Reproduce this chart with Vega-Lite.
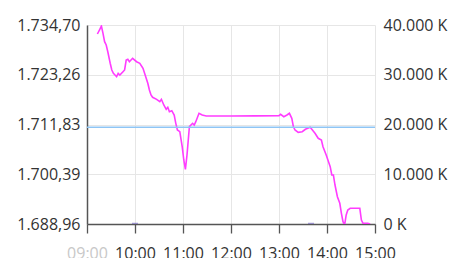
{
  "$schema": "https://vega.github.io/schema/vega-lite/v6.json",
  "width": 288,
  "height": 199,
  "autosize": "none",
  "padding": {"left": 87, "top": 25, "right": 74, "bottom": 34},
  "config": {
    "view": {"stroke": null},
    "axis": {"labelFont": "Open Sans", "labelFontSize": 16, "labelColor": "#333333", "gridColor": "#e6e6e6", "domainColor": "#555555", "tickColor": "#555555"}
  },
  "layer": [
    {
      "layer": [
        {
          "data": {"values": [
          {"t": "2024-01-02T09:13", "p": 1732.63},
          {"t": "2024-01-02T09:16", "p": 1733.71},
          {"t": "2024-01-02T09:18", "p": 1734.47},
          {"t": "2024-01-02T09:20", "p": 1732.79},
          {"t": "2024-01-02T09:22", "p": 1730.86},
          {"t": "2024-01-02T09:24", "p": 1730.10},
          {"t": "2024-01-02T09:26", "p": 1728.56},
          {"t": "2024-01-02T09:29", "p": 1725.90},
          {"t": "2024-01-02T09:31", "p": 1724.36},
          {"t": "2024-01-02T09:33", "p": 1723.60},
          {"t": "2024-01-02T09:35", "p": 1723.21},
          {"t": "2024-01-02T09:37", "p": 1722.82},
          {"t": "2024-01-02T09:39", "p": 1723.60},
          {"t": "2024-01-02T09:41", "p": 1723.21},
          {"t": "2024-01-02T09:45", "p": 1723.97},
          {"t": "2024-01-02T09:47", "p": 1724.36},
          {"t": "2024-01-02T09:49", "p": 1726.65},
          {"t": "2024-01-02T09:51", "p": 1726.81},
          {"t": "2024-01-02T09:53", "p": 1726.26},
          {"t": "2024-01-02T09:57", "p": 1727.05},
          {"t": "2024-01-02T10:02", "p": 1726.26},
          {"t": "2024-01-02T10:06", "p": 1725.90},
          {"t": "2024-01-02T10:10", "p": 1724.75},
          {"t": "2024-01-02T10:12", "p": 1723.60},
          {"t": "2024-01-02T10:14", "p": 1722.45},
          {"t": "2024-01-02T10:16", "p": 1721.30},
          {"t": "2024-01-02T10:18", "p": 1719.76},
          {"t": "2024-01-02T10:20", "p": 1718.61},
          {"t": "2024-01-02T10:22", "p": 1718.08},
          {"t": "2024-01-02T10:27", "p": 1717.62},
          {"t": "2024-01-02T10:31", "p": 1717.07},
          {"t": "2024-01-02T10:33", "p": 1717.62},
          {"t": "2024-01-02T10:36", "p": 1716.31},
          {"t": "2024-01-02T10:39", "p": 1715.32},
          {"t": "2024-01-02T10:41", "p": 1715.78},
          {"t": "2024-01-02T10:43", "p": 1714.77},
          {"t": "2024-01-02T10:46", "p": 1715.00},
          {"t": "2024-01-02T10:49", "p": 1714.01},
          {"t": "2024-01-02T10:51", "p": 1712.10},
          {"t": "2024-01-02T10:53", "p": 1710.57},
          {"t": "2024-01-02T10:56", "p": 1710.17},
          {"t": "2024-01-02T10:59", "p": 1706.73},
          {"t": "2024-01-02T11:01", "p": 1703.67},
          {"t": "2024-01-02T11:03", "p": 1701.53},
          {"t": "2024-01-02T11:05", "p": 1704.82},
          {"t": "2024-01-02T11:08", "p": 1711.32},
          {"t": "2024-01-02T11:12", "p": 1712.10},
          {"t": "2024-01-02T11:14", "p": 1711.71},
          {"t": "2024-01-02T11:16", "p": 1712.47},
          {"t": "2024-01-02T11:20", "p": 1714.40},
          {"t": "2024-01-02T11:24", "p": 1714.01},
          {"t": "2024-01-02T11:29", "p": 1713.78},
          {"t": "2024-01-02T12:00", "p": 1713.80},
          {"t": "2024-01-02T12:30", "p": 1713.82},
          {"t": "2024-01-02T13:00", "p": 1713.85},
          {"t": "2024-01-02T13:02", "p": 1714.17},
          {"t": "2024-01-02T13:06", "p": 1713.62},
          {"t": "2024-01-02T13:10", "p": 1714.01},
          {"t": "2024-01-02T13:13", "p": 1714.40},
          {"t": "2024-01-02T13:16", "p": 1713.25},
          {"t": "2024-01-02T13:18", "p": 1711.32},
          {"t": "2024-01-02T13:20", "p": 1710.57},
          {"t": "2024-01-02T13:24", "p": 1710.04},
          {"t": "2024-01-02T13:29", "p": 1710.17},
          {"t": "2024-01-02T13:33", "p": 1710.73},
          {"t": "2024-01-02T13:39", "p": 1711.19},
          {"t": "2024-01-02T13:41", "p": 1710.73},
          {"t": "2024-01-02T13:45", "p": 1709.81},
          {"t": "2024-01-02T13:49", "p": 1708.66},
          {"t": "2024-01-02T13:53", "p": 1708.27},
          {"t": "2024-01-02T13:55", "p": 1706.73},
          {"t": "2024-01-02T13:59", "p": 1704.82},
          {"t": "2024-01-02T14:04", "p": 1702.13},
          {"t": "2024-01-02T14:06", "p": 1700.22},
          {"t": "2024-01-02T14:08", "p": 1700.22},
          {"t": "2024-01-02T14:10", "p": 1697.92},
          {"t": "2024-01-02T14:13", "p": 1695.23},
          {"t": "2024-01-02T14:16", "p": 1693.72},
          {"t": "2024-01-02T14:18", "p": 1691.42},
          {"t": "2024-01-02T14:20", "p": 1689.49},
          {"t": "2024-01-02T14:22", "p": 1688.73},
          {"t": "2024-01-02T14:24", "p": 1691.03},
          {"t": "2024-01-02T14:26", "p": 1692.18},
          {"t": "2024-01-02T14:29", "p": 1692.57},
          {"t": "2024-01-02T14:41", "p": 1692.57},
          {"t": "2024-01-02T14:43", "p": 1689.88},
          {"t": "2024-01-02T14:45", "p": 1689.12},
          {"t": "2024-01-02T14:51", "p": 1689.12},
          {"t": "2024-01-02T14:54", "p": 1688.96}
          ]},
          "mark": {"type": "line", "color": "#ff3cff", "strokeWidth": 1.6, "clip": true},
          "encoding": {
            "x": {
              "field": "t", "type": "temporal", "title": null,
              "scale": {"domain": [{"year": 2024, "month": 1, "date": 2, "hours": 9}, {"year": 2024, "month": 1, "date": 2, "hours": 15}], "padding": 0},
              "axis": {
                "format": "%H:%M", "tickCount": 6, "grid": true,
                "tickSize": 9, "labelPadding": 12, "domainWidth": 1.5, "tickWidth": 1.3,
                "labelFlush": false, "labelOverlap": false,
                "labelColor": {"condition": {"test": "hours(datum.value) == 9", "value": "#c8c8c8"}, "value": "#333333"}
              }
            },
            "y": {
              "field": "p", "type": "quantitative", "title": null,
              "scale": {"domain": [1688.96, 1734.70], "zero": false, "nice": false},
              "axis": {
                "values": [1688.96, 1700.39, 1711.83, 1723.26, 1734.70],
                "labelExpr": "replace(replace(replace(format(datum.value, ',.2f'), ',', '_'), '.', ','), '_', '.')",
                "ticks": false, "labelPadding": 7, "domainWidth": 1.5, "grid": true
              }
            }
          }
        },
        {
          "data": {"values": [{"r": 1711.2}]},
          "mark": {"type": "rule", "color": "#8ec5f5", "strokeWidth": 1.6},
          "encoding": {"y": {"field": "r", "type": "quantitative"}}
        }
      ]
    },
    {
      "data": {"values": [
        {"t": "2024-01-02T10:00", "v": 250},
        {"t": "2024-01-02T13:40", "v": 250}
      ]},
      "mark": {"type": "bar", "color": "#7060c0", "width": 6, "opacity": 0.6},
      "encoding": {
        "x": {"field": "t", "type": "temporal", "title": null, "scale": {"padding": 0}},
        "y": {
          "field": "v", "type": "quantitative", "title": null,
          "scale": {"domain": [0, 40000], "nice": false},
          "axis": {
            "orient": "right", "values": [0, 10000, 20000, 30000, 40000],
            "labelExpr": "replace(format(datum.value, ',.0f'), ',', '.') + ' K'",
            "ticks": false, "domain": false, "grid": false, "labelPadding": 8
          }
        }
      }
    }
  ],
  "resolve": {"scale": {"y": "independent"}}
}
